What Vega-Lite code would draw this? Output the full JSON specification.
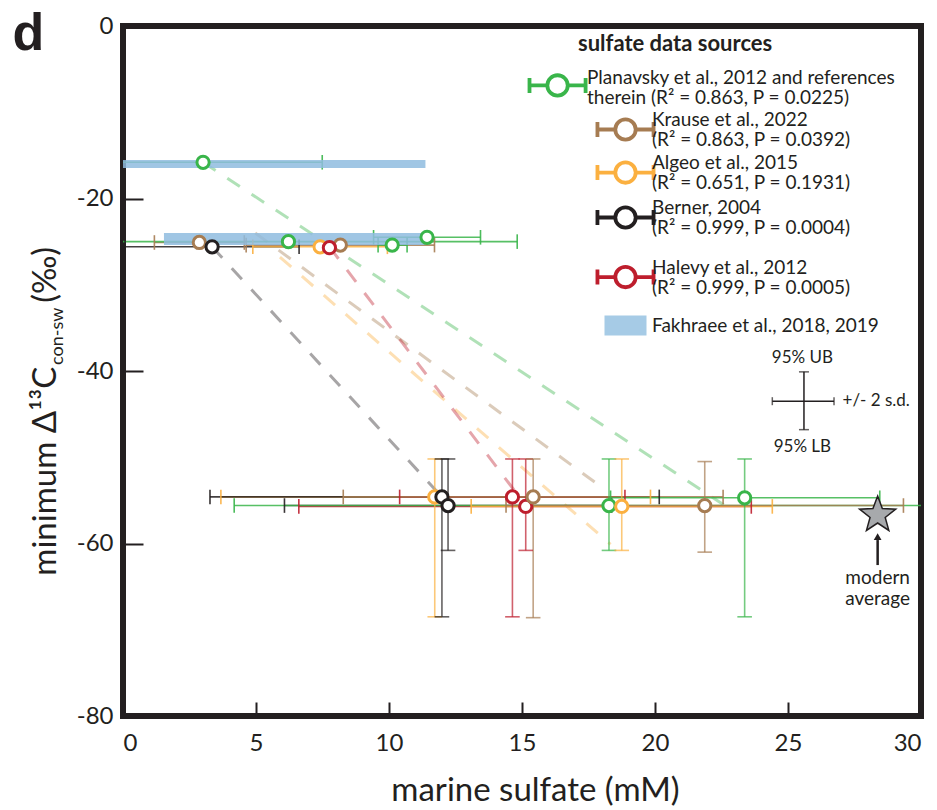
{
  "$schema": "https://vega.github.io/schema/vega-lite/v6.json",
  "width": 798,
  "height": 690,
  "autosize": {"type": "none"},
  "padding": {"left": 123, "top": 26, "right": 16, "bottom": 94},
  "background": "white",
  "datasets": {
    "pts": [
      {"src": "Planavsky", "x": 3.01, "y": -15.8, "xlo": -1.47, "xhi": 7.49},
      {"src": "Krause", "x": 2.87, "y": -25.1, "xlo": 1.18, "xhi": 4.56},
      {"src": "Berner", "x": 3.35, "y": -25.6, "xlo": 0.08, "xhi": 6.62},
      {"src": "Planavsky", "x": 6.22, "y": -25.0, "xlo": -2.38, "xhi": 14.82},
      {"src": "Algeo", "x": 7.41, "y": -25.6, "xlo": 4.88, "xhi": 9.94},
      {"src": "Krause", "x": 8.17, "y": -25.4, "xlo": 4.63, "xhi": 11.71},
      {"src": "Halevy", "x": 7.76, "y": -25.7},
      {"src": "Planavsky", "x": 10.12, "y": -25.4, "xlo": 9.59, "xhi": 10.68},
      {"src": "Planavsky", "x": 11.43, "y": -24.5, "xlo": 9.42, "xhi": 13.44},
      {"src": "Algeo", "x": 11.72, "y": -54.6, "xlo": 3.68, "xhi": 19.83, "ylo": -68.5, "yhi": -50.2},
      {"src": "Berner", "x": 11.99, "y": -54.6, "xlo": 3.27, "xhi": 20.16, "ylo": -68.5, "yhi": -50.2},
      {"src": "Berner", "x": 12.22, "y": -55.6, "xlo": 6.07, "xhi": 18.37, "ylo": -60.8, "yhi": -50.2},
      {"src": "Halevy", "x": 14.64, "y": -54.6, "xlo": 10.4, "xhi": 18.87, "ylo": -68.5, "yhi": -50.2},
      {"src": "Halevy", "x": 15.14, "y": -55.7, "xlo": 6.61, "xhi": 23.62, "ylo": -60.8, "yhi": -50.2},
      {"src": "Krause", "x": 15.42, "y": -54.6, "xlo": 8.28, "xhi": 22.56, "ylo": -68.6, "yhi": -50.2},
      {"src": "Planavsky", "x": 18.27, "y": -55.6, "xlo": 4.18, "xhi": 32.36, "ylo": -60.8, "yhi": -50.2},
      {"src": "Algeo", "x": 18.75, "y": -55.7, "xlo": 13.09, "xhi": 24.41, "ylo": -60.8, "yhi": -50.2},
      {"src": "Krause", "x": 21.87, "y": -55.6, "xlo": 14.4, "xhi": 29.34, "ylo": -61.0, "yhi": -50.5},
      {"src": "Planavsky", "x": 23.37, "y": -54.7, "xlo": 18.33, "xhi": 28.45, "ylo": -68.5, "yhi": -50.2}
    ],
    "fits": [
      {"src": "Planavsky", "x": 3.01, "y": -15.8},
      {"src": "Planavsky", "x": 22.58, "y": -55.5},
      {"src": "Krause", "x": 4.97, "y": -24.0},
      {"src": "Krause", "x": 18.14, "y": -53.8},
      {"src": "Algeo", "x": 5.9, "y": -26.8},
      {"src": "Algeo", "x": 18.33, "y": -60.1},
      {"src": "Berner", "x": 3.35, "y": -25.6},
      {"src": "Berner", "x": 11.99, "y": -54.6},
      {"src": "Halevy", "x": 7.76, "y": -25.6},
      {"src": "Halevy", "x": 14.75, "y": -54.0}
    ],
    "fak": [
      {"x0": 0, "x1": 11.37, "y0": -15.54, "y1": -16.46},
      {"x0": 1.54, "x1": 11.35, "y0": -24.0, "y1": -25.39}
    ],
    "modern": [{"x": 28.37, "y": -56.7, "label": "modern|average", "ytext": -62.9, "yarrow0": -62.5, "yarrow1": -59.6, "yhead": -59.2}],
    "key": [{"x": 25.6, "y": -43.5, "xlo": 24.41, "xhi": 26.73, "ylo": -46.8, "yhi": -40.1}],
    "keyc": [{"t": "95% UB", "x": 25.54, "y": -38.5}, {"t": "95% LB", "x": 25.54, "y": -48.8}],
    "keyl": [{"t": "+/- 2 s.d.", "x": 27.05, "y": -43.5}]
  },
  "layer": [
    {
      "data": {"name": "fits"},
      "mark": {"type": "line", "strokeDash": [15, 14], "strokeWidth": 3, "opacity": 0.4, "clip": true},
      "encoding": {
        "x": {"field": "x", "type": "quantitative", "title": "marine sulfate (mM)", "scale": {"domain": [0, 30], "nice": false, "zero": false}},
        "y": {"field": "y", "type": "quantitative", "title": null, "scale": {"domain": [-80, 0], "nice": false, "zero": false}},
        "color": {
          "field": "src", "type": "nominal",
          "scale": {"domain": ["Planavsky", "Krause", "Algeo", "Berner", "Halevy", "Fakhraee"], "range": ["#39B54A", "#A67C52", "#FBB040", "#231F20", "#BE1E2D", "#A6CBE6"]},
          "legend": {
            "orient": "none", "legendX": 455, "legendY": 8, "padding": 0,
            "title": "sulfate data sources", "titleFont": "Lato", "titleFontSize": 22, "titleFontWeight": "bold", "titleColor": "#231F20", "titlePadding": 12, "titleLimit": 500,
            "labelFont": "Lato", "labelFontSize": 19, "labelColor": "#231F20", "labelOffset": 17, "labelLimit": 500,
            "symbolSize": 900, "rowPadding": -2, "symbolOpacity": 1,
            "labelExpr": "datum.value == 'Planavsky' ? ['Planavsky et al., 2012 and references', 'therein (R² = 0.863, P = 0.0225)'] : datum.value == 'Krause' ? ['Krause et al., 2022', '(R² = 0.863, P = 0.0392)'] : datum.value == 'Algeo' ? ['Algeo et al., 2015', '(R² = 0.651, P = 0.1931)'] : datum.value == 'Berner' ? ['Berner, 2004', '(R² = 0.999, P = 0.0004)'] : datum.value == 'Halevy' ? ['Halevy et al., 2012', '(R² = 0.999, P = 0.0005)'] : 'Fakhraee et al., 2018, 2019'",
            "encode": {
              "symbols": {"update": {
                "shape": {"signal": "datum.value === 'Fakhraee' ? 'M-1.4,0.53H1.4V1.87H-1.4Z' : datum.value === 'Planavsky' ? 'M-6.4,0.03V1.03M-6.4,0.53H-5.21M-3.85,0.53H-2.66M-2.66,0.03V1.03M-3.85,0.53A0.68,0.68 0 1,1 -5.21,0.53A0.68,0.68 0 1,1 -3.85,0.53' : datum.value === 'Krause' ? 'M-1.87,0.3V1.3M-1.87,0.8H-0.68M0.68,0.8H1.87M1.87,0.3V1.3M0.68,0.8A0.68,0.68 0 1,1 -0.68,0.8A0.68,0.68 0 1,1 0.68,0.8' : datum.value === 'Algeo' ? 'M-1.87,0.37V1.37M-1.87,0.87H-0.68M0.68,0.87H1.87M1.87,0.37V1.37M0.68,0.87A0.68,0.68 0 1,1 -0.68,0.87A0.68,0.68 0 1,1 0.68,0.87' : datum.value === 'Berner' ? 'M-1.87,0.5V1.5M-1.87,1H-0.68M0.68,1H1.87M1.87,0.5V1.5M0.68,1A0.68,0.68 0 1,1 -0.68,1A0.68,0.68 0 1,1 0.68,1' : 'M-1.87,1.47V2.47M-1.87,1.97H-0.68M0.68,1.97H1.87M1.87,1.47V2.47M0.68,1.97A0.68,0.68 0 1,1 -0.68,1.97A0.68,0.68 0 1,1 0.68,1.97'"},
                "fill": {"signal": "datum.value === 'Fakhraee' ? '#A6CBE6' : 'white'"},
                "fillOpacity": {"value": 1},
                "strokeOpacity": {"value": 1},
                "strokeWidth": {"signal": "datum.value === 'Fakhraee' ? 0 : 3.8"},
                "strokeDash": {"value": []},
                "opacity": {"value": 1}
              }},
              "labels": {"update": {"dx": {"signal": "datum.value === 'Planavsky' ? -65 : 0"}, "dy": {"signal": "datum.value === 'Krause' ? 2 : datum.value === 'Algeo' ? 3 : datum.value === 'Berner' ? 5 : datum.value === 'Halevy' ? 20 : datum.value === 'Fakhraee' ? 18 : 0"}, "lineHeight": {"value": 20}}},
              "title": {"update": {"dx": {"value": -38}}}
            }
          }
        }
      }
    },
    {
      "data": {"name": "pts"},
      "transform": [{"filter": "isValid(datum.xlo)"}],
      "mark": {"type": "rule", "strokeWidth": 1.6, "opacity": 0.85, "clip": true},
      "encoding": {
        "x": {"field": "xlo", "type": "quantitative", "title": "marine sulfate (mM)"},
        "x2": {"field": "xhi"},
        "y": {"field": "y", "type": "quantitative", "title": null},
        "color": {"field": "src", "type": "nominal"}
      }
    },
    {
      "data": {"name": "pts"},
      "transform": [{"filter": "isValid(datum.xlo)"}, {"fold": ["xlo", "xhi"], "as": ["end", "cx"]}],
      "mark": {"type": "tick", "orient": "vertical", "filled": false, "size": 13, "thickness": 0.01, "strokeWidth": 1.6, "opacity": 0.9, "clip": true},
      "encoding": {
        "x": {"field": "cx", "type": "quantitative", "title": "marine sulfate (mM)"},
        "y": {"field": "y", "type": "quantitative", "title": null},
        "color": {"field": "src", "type": "nominal"}
      }
    },
    {
      "data": {"name": "fak"},
      "mark": {"type": "rect", "color": "#8FBCDF", "opacity": 0.85},
      "encoding": {
        "x": {"field": "x0", "type": "quantitative", "title": "marine sulfate (mM)"},
        "x2": {"field": "x1"},
        "y": {"field": "y0", "type": "quantitative", "title": null},
        "y2": {"field": "y1"}
      }
    },
    {
      "data": {"name": "pts"},
      "transform": [{"filter": "isValid(datum.ylo)"}],
      "mark": {"type": "rule", "strokeWidth": 1.6, "opacity": 0.7},
      "encoding": {
        "x": {"field": "x", "type": "quantitative", "title": "marine sulfate (mM)"},
        "y": {"field": "ylo", "type": "quantitative", "title": null},
        "y2": {"field": "yhi"},
        "color": {"field": "src", "type": "nominal"}
      }
    },
    {
      "data": {"name": "pts"},
      "transform": [{"filter": "isValid(datum.ylo)"}, {"fold": ["ylo", "yhi"], "as": ["end", "cy"]}],
      "mark": {"type": "tick", "orient": "horizontal", "filled": false, "size": 13, "thickness": 0.01, "strokeWidth": 1.6, "opacity": 0.7},
      "encoding": {
        "x": {"field": "x", "type": "quantitative", "title": "marine sulfate (mM)"},
        "y": {"field": "cy", "type": "quantitative", "title": null},
        "color": {"field": "src", "type": "nominal"}
      }
    },
    {
      "data": {"name": "modern"},
      "mark": {"type": "point", "shape": "M0,-1L0.247,-0.34L0.951,-0.309L0.399,0.13L0.588,0.809L0,0.42L-0.588,0.809L-0.399,0.13L-0.951,-0.309L-0.247,-0.34Z", "filled": true, "fill": "#A7A9AC", "stroke": "#231F20", "strokeWidth": 1.5, "size": 1444, "opacity": 1},
      "encoding": {
        "x": {"field": "x", "type": "quantitative", "title": "marine sulfate (mM)"},
        "y": {"field": "y", "type": "quantitative", "title": null}
      }
    },
    {
      "data": {"name": "modern"},
      "mark": {"type": "rule", "color": "#231F20", "strokeWidth": 2.5},
      "encoding": {
        "x": {"field": "x", "type": "quantitative", "title": "marine sulfate (mM)"},
        "y": {"field": "yarrow0", "type": "quantitative", "title": null},
        "y2": {"field": "yarrow1"}
      }
    },
    {
      "data": {"name": "modern"},
      "mark": {"type": "point", "shape": "triangle-up", "filled": true, "color": "#231F20", "size": 60, "opacity": 1},
      "encoding": {
        "x": {"field": "x", "type": "quantitative", "title": "marine sulfate (mM)"},
        "y": {"field": "yhead", "type": "quantitative", "title": null}
      }
    },
    {
      "data": {"name": "modern"},
      "mark": {"type": "text", "font": "Lato", "fontSize": 19, "lineHeight": 21, "lineBreak": "|", "align": "center", "baseline": "top", "color": "#231F20"},
      "encoding": {
        "x": {"field": "x", "type": "quantitative", "title": "marine sulfate (mM)"},
        "y": {"field": "ytext", "type": "quantitative", "title": null},
        "text": {"field": "label"}
      }
    },
    {
      "data": {"name": "key"},
      "mark": {"type": "rule", "color": "#231F20", "strokeWidth": 1.5},
      "encoding": {
        "x": {"field": "xlo", "type": "quantitative", "title": "marine sulfate (mM)"},
        "x2": {"field": "xhi"},
        "y": {"field": "y", "type": "quantitative", "title": null}
      }
    },
    {
      "data": {"name": "key"},
      "mark": {"type": "rule", "color": "#231F20", "strokeWidth": 1.5},
      "encoding": {
        "x": {"field": "x", "type": "quantitative", "title": "marine sulfate (mM)"},
        "y": {"field": "ylo", "type": "quantitative", "title": null},
        "y2": {"field": "yhi"}
      }
    },
    {
      "data": {"name": "key"},
      "transform": [{"fold": ["xlo", "xhi"], "as": ["end", "cx"]}],
      "mark": {"type": "tick", "orient": "vertical", "size": 8, "thickness": 1.5, "color": "#231F20"},
      "encoding": {
        "x": {"field": "cx", "type": "quantitative", "title": "marine sulfate (mM)"},
        "y": {"field": "y", "type": "quantitative", "title": null}
      }
    },
    {
      "data": {"name": "key"},
      "transform": [{"fold": ["ylo", "yhi"], "as": ["end", "cy"]}],
      "mark": {"type": "tick", "orient": "horizontal", "size": 10, "thickness": 1.5, "color": "#231F20"},
      "encoding": {
        "x": {"field": "x", "type": "quantitative", "title": "marine sulfate (mM)"},
        "y": {"field": "cy", "type": "quantitative", "title": null}
      }
    },
    {
      "data": {"name": "keyc"},
      "mark": {"type": "text", "font": "Lato", "fontSize": 17, "align": "center", "baseline": "middle", "color": "#231F20"},
      "encoding": {
        "x": {"field": "x", "type": "quantitative", "title": "marine sulfate (mM)"},
        "y": {"field": "y", "type": "quantitative", "title": null},
        "text": {"field": "t"}
      }
    },
    {
      "data": {"name": "keyl"},
      "mark": {"type": "text", "font": "Lato", "fontSize": 17, "align": "left", "baseline": "middle", "color": "#231F20"},
      "encoding": {
        "x": {"field": "x", "type": "quantitative", "title": "marine sulfate (mM)"},
        "y": {"field": "y", "type": "quantitative", "title": null},
        "text": {"field": "t"}
      }
    },
    {
      "data": {"values": [{}]},
      "mark": {"type": "text", "font": "Liberation Sans", "fontSize": 52, "fontWeight": "bold", "align": "center", "baseline": "alphabetic", "color": "#231F20"},
      "encoding": {
        "x": {"datum": -3.56, "type": "quantitative"},
        "y": {"datum": -2.75, "type": "quantitative"},
        "text": {"value": "d"}
      }
    },
    {
      "data": {"values": [{}]},
      "mark": {"type": "text", "font": "Lato", "fontSize": 33, "angle": 270, "align": "right", "baseline": "alphabetic", "color": "#231F20"},
      "encoding": {
        "x": {"datum": -2.52, "type": "quantitative"},
        "y": {"datum": -39.5, "type": "quantitative"},
        "text": {"value": "minimum Δ¹³C"}
      }
    },
    {
      "data": {"values": [{}]},
      "mark": {"type": "text", "font": "Lato", "fontSize": 18, "angle": 270, "align": "left", "baseline": "alphabetic", "color": "#231F20"},
      "encoding": {
        "x": {"datum": -2.26, "type": "quantitative"},
        "y": {"datum": -39.3, "type": "quantitative"},
        "text": {"value": "con-sw"}
      }
    },
    {
      "data": {"values": [{}]},
      "mark": {"type": "text", "font": "Lato", "fontSize": 33, "angle": 270, "align": "left", "baseline": "alphabetic", "color": "#231F20"},
      "encoding": {
        "x": {"datum": -2.52, "type": "quantitative"},
        "y": {"datum": -32.1, "type": "quantitative"},
        "text": {"value": "(‰)"}
      }
    },
    {
      "data": {"name": "pts"},
      "mark": {"type": "point", "shape": "circle", "filled": false, "fill": "white", "size": 150, "strokeWidth": 3, "opacity": 1},
      "encoding": {
        "x": {"field": "x", "type": "quantitative", "title": "marine sulfate (mM)"},
        "y": {"field": "y", "type": "quantitative", "title": null},
        "color": {"field": "src", "type": "nominal"}
      }
    }
  ],
  "config": {
    "view": {"stroke": "#231F20", "strokeWidth": 6},
    "font": "Lato",
    "axis": {"domain": false, "grid": false, "labelFont": "Lato", "labelFontSize": 24, "labelColor": "#231F20", "tickColor": "#231F20", "tickWidth": 2, "titleFont": "Lato", "titleFontSize": 33, "titleFontWeight": "normal", "titleColor": "#231F20"},
    "axisX": {"tickSize": -14, "labelPadding": 29, "tickCount": 7, "titleX": 412, "titleY": 84, "titleBaseline": "alphabetic"},
    "axisY": {"tickSize": -20, "labelPadding": 30, "tickCount": 5, "labelExpr": "'' + datum.value"}
  }
}
